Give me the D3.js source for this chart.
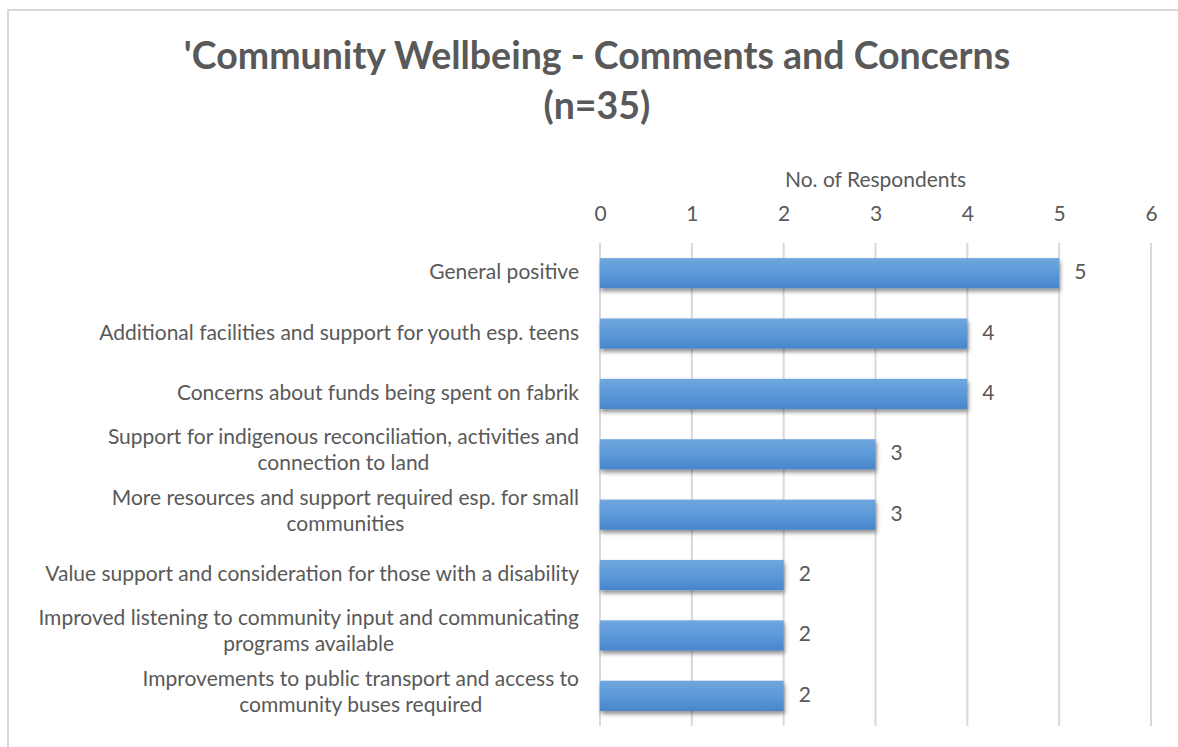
<!DOCTYPE html>
<html>
<head>
<meta charset="utf-8">
<script src="https://cdn.jsdelivr.net/npm/d3@7"></script>
<style>
  html, body { margin: 0; padding: 0; background: #fff; }
  svg { display: block; }
  text { font-family: Lato, "Open Sans", sans-serif; fill: #595959; }
</style>
</head>
<body>
<svg id="chart" width="1178" height="747"></svg>
<script>
// Comment categories (each entry split into its display lines)
const categories = [
  ["General positive"],
  ["Additional facilities and support for youth esp. teens"],
  ["Concerns about funds being spent on fabrik"],
  ["Support for indigenous reconciliation, activities and", "connection to land"],
  ["More resources and support required esp. for small", "communities"],
  ["Value support and consideration for those with a disability"],
  ["Improved listening to community input and communicating", "programs available"],
  ["Improvements to public transport and access to", "community buses required"]
];
const respondents = [5, 4, 4, 3, 3, 2, 2, 2];
const tickValues = [0, 1, 2, 3, 4, 5, 6];
const titleLines = ["'Community Wellbeing - Comments and Concerns", "(n=35)"];
const axisTitle = "No. of Respondents";

const svg = d3.select("#chart");
const W = 1178, H = 747;
const margin = { top: 243, right: 27, bottom: 21, left: 600 };
const fontSize = 21;

// Outer chart frame
svg.append("rect")
  .attr("x", 8).attr("y", 10)
  .attr("width", W + 10).attr("height", H + 10)
  .attr("fill", "#fff").attr("stroke", "#d9d9d9").attr("stroke-width", 2);

const x = d3.scaleLinear().domain([0, 6]).range([margin.left, W - margin.right]);
const y = d3.scaleBand().domain(d3.range(categories.length))
  .range([margin.top, H - margin.bottom]).paddingInner(0.5).paddingOuter(0.25);

// Bar fill gradient and soft shadow
const defs = svg.append("defs");
const grad = defs.append("linearGradient").attr("id", "barGrad")
  .attr("x1", 0).attr("y1", 0).attr("x2", 0).attr("y2", 1);
grad.append("stop").attr("offset", "0%").attr("stop-color", "#6fa7dd");
grad.append("stop").attr("offset", "55%").attr("stop-color", "#5b97d8");
grad.append("stop").attr("offset", "100%").attr("stop-color", "#4885cb");
const shadow = defs.append("filter").attr("id", "barShadow")
  .attr("x", "-5%").attr("y", "-30%").attr("width", "110%").attr("height", "180%");
shadow.append("feDropShadow").attr("dx", 1).attr("dy", 3).attr("stdDeviation", 2)
  .attr("flood-color", "#000").attr("flood-opacity", 0.45);

// Vertical gridlines
svg.append("g")
  .selectAll("line")
  .data(tickValues)
  .join("line")
  .attr("x1", d => x(d)).attr("x2", d => x(d))
  .attr("y1", margin.top).attr("y2", H - margin.bottom)
  .attr("stroke", "#d9d9d9").attr("stroke-width", 2);

// Top axis tick labels
const axis = d3.axisTop(x).tickValues(tickValues).tickFormat(d3.format("d"))
  .tickSize(0).tickPadding(0);
const axisG = svg.append("g").attr("transform", `translate(0, ${margin.top - 22})`).call(axis);
axisG.select(".domain").remove();
axisG.selectAll("text")
  .attr("font-size", fontSize)
  .attr("font-family", "Lato, sans-serif")
  .attr("fill", "#595959");

// Axis title
svg.append("text")
  .attr("x", (x(0) + x(6)) / 2).attr("y", 187)
  .attr("text-anchor", "middle").attr("font-size", fontSize)
  .text(axisTitle);

// Chart title
svg.append("g").selectAll("text")
  .data(titleLines)
  .join("text")
  .attr("x", 597).attr("y", (d, i) => 69 + i * 50)
  .attr("text-anchor", "middle")
  .attr("font-size", 37.5).attr("font-weight", "bold")
  .text(d => d);

// Bars
svg.append("g")
  .selectAll("rect")
  .data(respondents)
  .join("rect")
  .attr("x", x(0))
  .attr("y", (d, i) => y(i))
  .attr("width", d => x(d) - x(0))
  .attr("height", y.bandwidth())
  .attr("fill", "url(#barGrad)")
  .attr("filter", "url(#barShadow)");

// Value labels
svg.append("g")
  .selectAll("text")
  .data(respondents)
  .join("text")
  .attr("x", d => x(d) + 15)
  .attr("y", (d, i) => y(i) + y.bandwidth() / 2 + 6)
  .attr("font-size", fontSize)
  .text(d => d);

// Category labels: one line right-aligned, wrapped lines centred on the widest line
const labelRight = 579;
const lineH = 26;
const labelG = svg.append("g").attr("font-size", fontSize);
categories.forEach((lines, i) => {
  const cy = y(i) + y.bandwidth() / 2;
  if (lines.length === 1) {
    labelG.append("text")
      .attr("x", labelRight).attr("y", cy + 6)
      .attr("text-anchor", "end")
      .text(lines[0]);
  } else {
    const t = labelG.append("text").attr("text-anchor", "middle");
    const tspans = t.selectAll("tspan").data(lines).join("tspan")
      .attr("y", (d, k) => cy - 10 + k * lineH)
      .text(d => d);
    const widest = d3.max(tspans.nodes(), n => n.getComputedTextLength());
    tspans.attr("x", labelRight - widest / 2);
  }
});
</script>
</body>
</html>
